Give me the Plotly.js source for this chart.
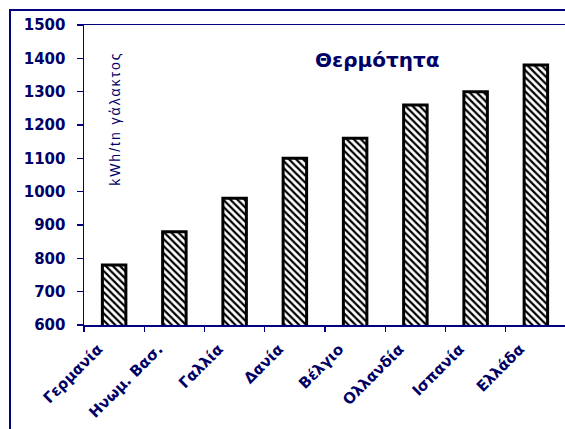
<!DOCTYPE html>
<html>
<head>
<meta charset="utf-8">
<script src="https://cdn.plot.ly/plotly-3.0.1.min.js"></script>
<style>
  html, body { margin: 0; padding: 0; background: #ffffff; overflow: hidden; }
  #wrap { position: relative; width: 565px; height: 429px; overflow: hidden; }
  #chart { position: absolute; left: 0; top: 0; }
  #frame {
    position: absolute; left: 9px; top: 9px; width: 700px; height: 600px;
    border: 2px solid #000080; pointer-events: none;
  }
  /* wider spacing for the unit label */
  #chart .annotation[data-index="1"] text { letter-spacing: 2px; }
</style>
</head>
<body>
<div id="wrap">
  <div id="chart"></div>
  <div id="frame"></div>
</div>
<script>
// Heat consumption per tonne of milk, by country
const countries = ["Γερμανία", "Ηνωμ. Βασ.", "Γαλλία", "Δανία", "Βέλγιο", "Ολλανδία", "Ισπανία", "Ελλάδα"];
const heatValues = [780, 880, 980, 1100, 1160, 1260, 1300, 1380];
const chartTitle = "Θερμότητα";
const unitLabel = "kWh/tn γάλακτος";

const navy = "#000066";
const lineNavy = "#000080";
const font = "'Liberation Sans', Arial, sans-serif";
const wideFont = "'DejaVu Sans', sans-serif";

const trace = {
  type: "bar",
  x: countries,
  y: heatValues,
  width: 0.39,
  marker: {
    color: "#ffffff",
    line: { color: "#000000", width: 3 },
    pattern: { shape: "\\", fgcolor: "#000000", bgcolor: "#ffffff", size: 5, solidity: 0.45 }
  }
};

const layout = {
  width: 566,
  height: 429,
  margin: { l: 84, r: 0, t: 25, b: 104, pad: 0 },
  paper_bgcolor: "rgba(0,0,0,0)",
  plot_bgcolor: "#ffffff",
  showlegend: false,
  xaxis: {
    type: "category",
    range: [-0.5, 7.5],
    showline: true, mirror: true,
    linecolor: lineNavy, linewidth: 1.5,
    ticks: "outside", tickson: "boundaries",
    ticklen: 5, tickwidth: 1.2, tickcolor: lineNavy,
    tickangle: -45,
    ticklabelshift: -16,
    ticklabelstandoff: 8,
    tickfont: { family: wideFont, size: 15, color: navy, weight: 700 },
    showgrid: false, zeroline: false
  },
  yaxis: {
    range: [600, 1500], dtick: 100, tick0: 600,
    showline: true, linecolor: lineNavy, linewidth: 1.5,
    ticks: "outside", ticklen: 6, tickwidth: 1.2, tickcolor: lineNavy,
    ticklabelstandoff: 8,
    tickfont: { family: wideFont, size: 15, color: navy, weight: 700 },
    showgrid: false, zeroline: false
  },
  annotations: [
    { text: chartTitle, xref: "paper", yref: "paper", x: 0.608, y: 0.883,
      xanchor: "center", yanchor: "middle", showarrow: false,
      font: { family: wideFont, size: 20, color: navy, weight: 700 } },
    { text: unitLabel, xref: "paper", yref: "paper", x: 0.064, y: 0.69,
      xanchor: "center", yanchor: "middle", textangle: -90, showarrow: false,
      font: { family: font, size: 14, color: navy } }
  ]
};

Plotly.newPlot("chart", [trace], layout, { displayModeBar: false, staticPlot: true });
</script>
</body>
</html>
